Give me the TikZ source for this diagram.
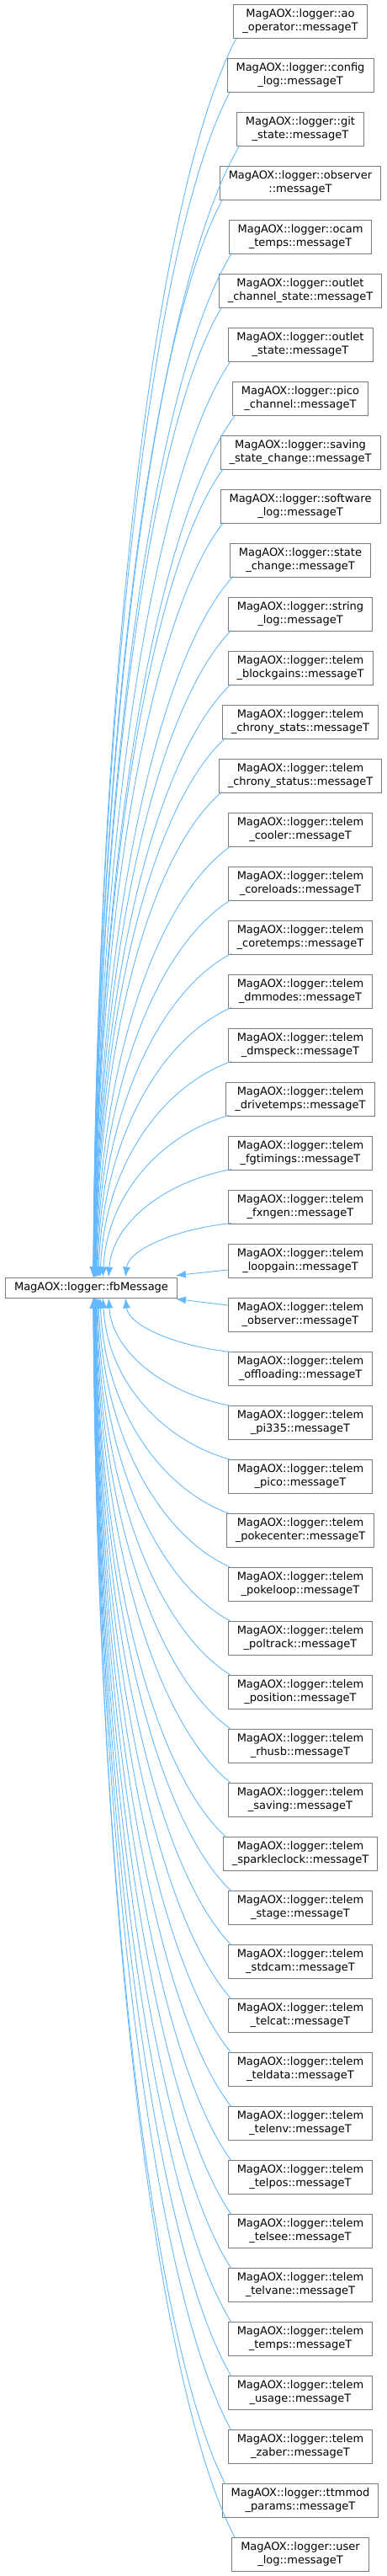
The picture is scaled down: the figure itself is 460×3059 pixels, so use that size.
\documentclass[tikz,border=0pt]{standalone}
\usepackage{fontspec}
\setmainfont{DejaVu Sans}
\usepackage{xcolor}
\usepackage{tikz}
\usetikzlibrary{arrows.meta,calc}
\definecolor{EdgeBlue}{HTML}{63B8FF}
\definecolor{BoxLine}{HTML}{7A7A7A}
\tikzset{
  cls/.style={draw=BoxLine,line width=0.9pt,fill=white,align=center,
    inner xsep=10.5pt,inner ysep=0pt,minimum height=40pt,
    font=\fontsize{13}{15.5}\selectfont},
  inh/.style={draw=EdgeBlue,line width=0.9pt,{Latex[length=12pt,width=9pt]}-},
}

\begin{document}
\begin{tikzpicture}[x=1pt,y=1pt]
  \useasboundingbox (0,0) rectangle (460,-3059);
  % base class
  \node[cls,minimum height=24pt] (base) at (108.5,-1529) {MagAOX::logger::fbMessage};
  % derived message types
  \foreach \txt [count=\i] in {
    {ao\\\_operator::messageT},{config\\\_log::messageT},{git\\\_state::messageT},
    {observer\\::messageT},{ocam\\\_temps::messageT},{outlet\\\_channel\_state::messageT},
    {outlet\\\_state::messageT},{pico\\\_channel::messageT},{saving\\\_state\_change::messageT},
    {software\\\_log::messageT},{state\\\_change::messageT},{string\\\_log::messageT},
    {telem\\\_blockgains::messageT},{telem\\\_chrony\_stats::messageT},{telem\\\_chrony\_status::messageT},
    {telem\\\_cooler::messageT},{telem\\\_coreloads::messageT},{telem\\\_coretemps::messageT},
    {telem\\\_dmmodes::messageT},{telem\\\_dmspeck::messageT},{telem\\\_drivetemps::messageT},
    {telem\\\_fgtimings::messageT},{telem\\\_fxngen::messageT},{telem\\\_loopgain::messageT},
    {telem\\\_observer::messageT},{telem\\\_offloading::messageT},{telem\\\_pi335::messageT},
    {telem\\\_pico::messageT},{telem\\\_pokecenter::messageT},{telem\\\_pokeloop::messageT},
    {telem\\\_poltrack::messageT},{telem\\\_position::messageT},{telem\\\_rhusb::messageT},
    {telem\\\_saving::messageT},{telem\\\_sparkleclock::messageT},{telem\\\_stage::messageT},
    {telem\\\_stdcam::messageT},{telem\\\_telcat::messageT},{telem\\\_teldata::messageT},
    {telem\\\_telenv::messageT},{telem\\\_telpos::messageT},{telem\\\_telsee::messageT},
    {telem\\\_telvane::messageT},{telem\\\_temps::messageT},{telem\\\_usage::messageT},
    {telem\\\_zaber::messageT},{ttmmod\\\_params::messageT},{user\\\_log::messageT}}{
    \node[cls] (c\i) at (357,{-25-64*(\i-1)}) {MagAOX::logger::\txt};
  }
  % upper branches, ending on top of the base
  \foreach \i in {1,...,23}{
    \pgfmathsetmacro{\xe}{103+40/(24-\i)}
    \coordinate (e\i) at ($(base.north west)+(\xe,0)$);
    \draw[inh] let \p1=($(c\i.south west)+(4,1)$), \p2=(e\i) in
      (\p2) .. controls ({\x2+0.03*(\x1-\x2)},{\y1+0.5*(\y2-\y1)})
      and ({\x1-0.55*(\x1-\x2)},{\y1+0.12*(\y2-\y1)}) .. (\p1);
  }
  % lower branches, ending under the base
  \foreach \i in {26,...,48}{
    \pgfmathsetmacro{\xe}{103+40/(\i-25)}
    \coordinate (e\i) at ($(base.south west)+(\xe,0)$);
    \draw[inh] let \p1=($(c\i.north west)+(4,-1)$), \p2=(e\i) in
      (\p2) .. controls ({\x2+0.03*(\x1-\x2)},{\y1+0.5*(\y2-\y1)})
      and ({\x1-0.55*(\x1-\x2)},{\y1+0.12*(\y2-\y1)}) .. (\p1);
  }
  % the two nearest
  \draw[inh] ($(base.north east)+(-2,2)$) -- ($(c24.west)+(0,-11)$);
  \draw[inh] ($(base.south east)+(-2,-1)$) -- ($(c25.west)+(0,11)$);
\end{tikzpicture}
\end{document}
